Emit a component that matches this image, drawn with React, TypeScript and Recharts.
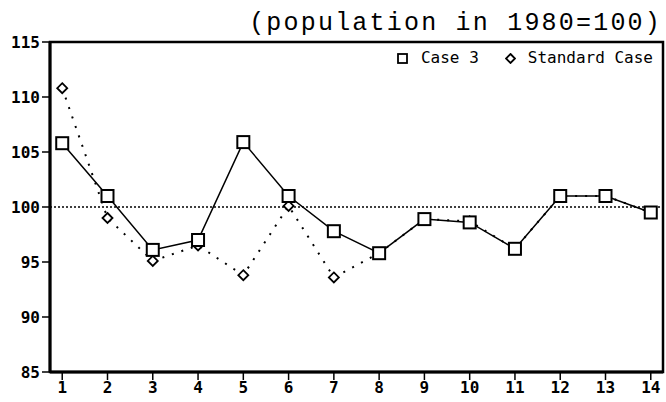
import { Line, LineChart, ReferenceArea, ReferenceLine, XAxis, YAxis } from "recharts";

const periods = [1, 2, 3, 4, 5, 6, 7, 8, 9, 10, 11, 12, 13, 14];
const case3 = [105.8, 101.0, 96.1, 97.0, 105.9, 101.0, 97.8, 95.8, 98.9, 98.6, 96.2, 101.0, 101.0, 99.5];
const standardCase = [110.8, 99.0, 95.1, 96.5, 93.8, 100.1, 93.6, 95.8, 98.9, 98.7, 96.2, 101.0, 101.0, 99.5];
const yTicks = [85, 90, 95, 100, 105, 110, 115];

const data = periods.map((p, i) => ({ period: p, case3: case3[i], standard: standardCase[i] }));

const tickFont = { fontFamily: "DejaVu Sans Mono", fontWeight: 700, fontSize: 16, fill: "#000" };

function SquareDot(props: any) {
  const { cx, cy } = props;
  if (cx == null || cy == null) return null;
  return <rect x={cx - 6} y={cy - 6} width={12} height={12} fill="#fff" stroke="#000" strokeWidth={2} />;
}

function DiamondDot(props: any) {
  const { cx, cy } = props;
  if (cx == null || cy == null) return null;
  return (
    <polygon
      points={`${cx},${cy - 5} ${cx + 5},${cy} ${cx},${cy + 5} ${cx - 5},${cy}`}
      fill="#fff"
      stroke="#000"
      strokeWidth={1.8}
    />
  );
}

function LegendBox() {
  return (
    <div
      style={{
        position: "absolute",
        right: 13,
        top: 48,
        fontFamily: "DejaVu Sans Mono",
        fontSize: 16,
        color: "#000",
        display: "flex",
        alignItems: "center",
        lineHeight: "20px",
        whiteSpace: "pre",
      }}
    >
      <svg width={11} height={11} style={{ marginRight: 13 }}>
        <rect x={1} y={1} width={9} height={9} fill="none" stroke="#000" strokeWidth={1.8} />
      </svg>
      <span style={{ marginRight: 26 }}>Case 3</span>
      <svg width={11} height={11} style={{ marginRight: 12 }}>
        <polygon points="5.5,1 10,5.5 5.5,10 1,5.5" fill="none" stroke="#000" strokeWidth={1.8} />
      </svg>
      <span>Standard Case</span>
    </div>
  );
}

export default function App() {
  return (
    <div style={{ position: "absolute", left: 0, top: 0, width: 666, height: 402, background: "#fff" }}>
      <div
        style={{
          position: "absolute",
          right: 4,
          top: 9,
          fontFamily: "Liberation Mono",
          fontSize: 25,
          letterSpacing: 2.2,
          color: "#000",
          lineHeight: "30px",
        }}
      >
        (population in 1980=100)
      </div>
      <LineChart width={666} height={402} data={data} margin={{ top: 42, right: 3, bottom: 0, left: 8 }}>
        <ReferenceArea x1={0.73} x2={14.27} y1={85} y2={115} fill="none" stroke="#000" strokeWidth={2.5} ifOverflow="visible" />
        <XAxis
          dataKey="period"
          type="number"
          domain={[0.73, 14.27]}
          ticks={periods}
          interval={0}
          height={30}
          tickSize={8}
          axisLine={{ stroke: "#000", strokeWidth: 3 }}
          tickLine={{ stroke: "#000", strokeWidth: 1.5 }}
          tick={tickFont}
        />
        <YAxis
          type="number"
          domain={[85, 115]}
          ticks={yTicks}
          width={42}
          tickSize={8}
          axisLine={{ stroke: "#000", strokeWidth: 3 }}
          tickLine={{ stroke: "#000", strokeWidth: 1.5 }}
          tick={tickFont}
        />
        <ReferenceLine y={100} stroke="#000" strokeWidth={1.5} strokeDasharray="2 2" />
        <Line
          dataKey="standard"
          name="Standard Case"
          stroke="#000"
          strokeWidth={2}
          strokeDasharray="2 8"
          dot={<DiamondDot />}
          isAnimationActive={false}
        />
        <Line
          dataKey="case3"
          name="Case 3"
          stroke="#000"
          strokeWidth={1.5}
          dot={<SquareDot />}
          isAnimationActive={false}
        />
      </LineChart>
      <LegendBox />
    </div>
  );
}
